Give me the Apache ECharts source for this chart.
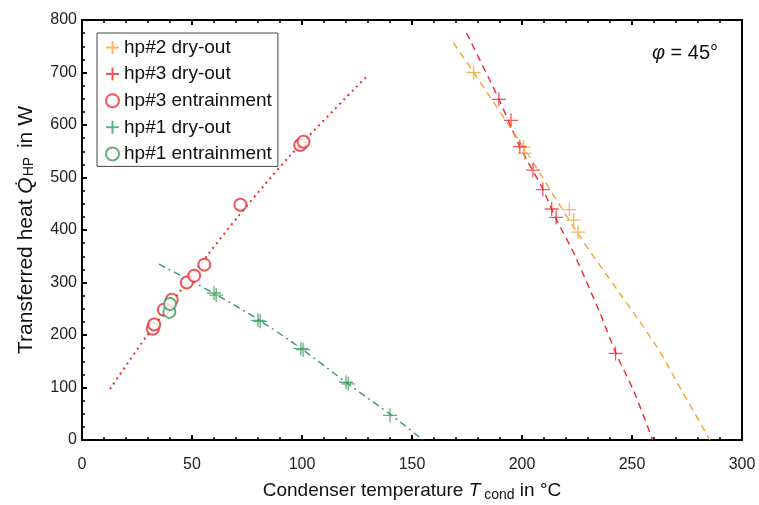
<!DOCTYPE html>
<html><head><meta charset="utf-8">
<script src="https://cdn.jsdelivr.net/npm/echarts@6/dist/echarts.min.js"></script>
<style>html,body{margin:0;padding:0;background:#fff}#c{width:759px;height:505px}</style>
</head><body><div id="c"></div>
<script>
// Measured points
const hp2DryOut = [[178,700],[200.8,558],[201.2,546],[221.5,439],[223.5,419],[225.5,396]];
const hp3DryOut = [[189.5,649],[195,609],[199,559],[205,514],[209.5,477],[213.5,440],[215.5,424],[242.5,165]];
const hp3Entrainment = [[32.2,212],[32.8,220],[37.2,248],[40.8,267],[47.6,300],[51,313],[55.6,334],[72,448],[99.2,562],[100.7,568]];
const hp1DryOut = [[60,280],[61,276],[80,228],[81,226],[99.5,174],[100.5,172],[120,110],[121,107],[140,47]];
const hp1Entrainment = [[39.7,244],[40,259]];
// Fit curves
const fitHp3Entr = [[12.7,97],[29.4,198],[57.4,354],[70.8,425],[82.4,483],[94.2,540],[129,691]];
const fitHp1Dry = [[35,335],[60.5,278],[81,227],[100,173],[120.6,108],[141,46],[155,0]];
const fitHp3Dry = [[174.8,775],[189.5,649],[199,559],[209.7,476],[215,425],[223.3,358],[235.5,241],[242.7,165],[250.6,95],[259.4,0]];
const fitHp2Dry = [[168.8,757],[178,700],[201.5,552],[225.6,392],[244.5,279],[261.2,178],[273.3,89],[285.4,0]];
const xTicks = {min:0,max:300,interval:50};
const yTicks = {min:0,max:800,interval:100};

const ORANGE='#F5A236', RED='#EE2A2E', GREEN='#3A9A5E';
const PLUS='path://M0,5L10,5M5,0L5,10';
const font='Liberation Sans, Arial, sans-serif';

function scat(name,data,color,kind){
  const plus = kind==='plus';
  return {name,type:'scatter',data,z:5,
    symbol: plus?PLUS:'emptyCircle',
    symbolSize: plus?14:12,
    itemStyle: plus?{color:color,borderColor:color,borderWidth:1.3}:{color:color,borderColor:color,borderWidth:1.2},
  };
}
function fit(data,color,type,w){
  return {type:'line',data,smooth:0.3,symbol:'none',silent:true,z:3,
    lineStyle:{color,type,width:w||1.4}};
}
const axisLine={show:true,onZero:false,lineStyle:{color:'#000',width:2}};
const chart = echarts.init(document.getElementById('c'));
chart.setOption({
  backgroundColor:'#fff',
  animation:false,
  textStyle:{fontFamily:font},
  grid:{left:82,right:17,top:20,bottom:65,outerBoundsMode:'none',containLabel:false},
  title:{text:'{i|φ} = 45°',left:647,top:38,textStyle:{fontFamily:font,fontSize:20,fontWeight:'normal',color:'#111',
    rich:{i:{fontStyle:'italic',fontSize:20,fontFamily:font,color:'#111'}}}},
  legend:{orient:'vertical',left:97,top:33,padding:[5,6,3,8],itemGap:7.6,itemWidth:13,itemHeight:14,
    borderColor:'#444',borderWidth:1,backgroundColor:'#fff',
    textStyle:{fontSize:19,color:'#111',fontFamily:font,padding:[0,0,0,0]},
    data:['hp#2 dry-out','hp#3 dry-out','hp#3 entrainment','hp#1 dry-out','hp#1 entrainment']},
  xAxis:[{type:'value',min:xTicks.min,max:xTicks.max,interval:xTicks.interval,
    name:'Condenser temperature {i|T}{sub| cond} in °C',nameLocation:'middle',nameGap:40,
    nameTextStyle:{fontSize:19,color:'#111',fontFamily:font,
      rich:{i:{fontStyle:'italic',fontSize:19,fontFamily:font,color:'#111'},sub:{fontSize:14,fontFamily:font,color:'#111',padding:[8,0,0,0]}}},
    axisLine,
    axisTick:{inside:true,length:5,lineStyle:{color:'#000',width:2}},
    minorTick:{show:true,splitNumber:5,length:3,lineStyle:{color:'#000',width:1.5}},
    axisLabel:{fontSize:16,color:'#222',margin:17,fontFamily:font},
    splitLine:{show:false}},
   {type:'value',position:'top',min:xTicks.min,max:xTicks.max,interval:xTicks.interval,
    axisLine,
    axisTick:{inside:true,length:5,lineStyle:{color:'#000',width:2}},
    minorTick:{show:true,splitNumber:5,length:3,lineStyle:{color:'#000',width:1.5}},
    axisLabel:{show:false},splitLine:{show:false}}],
  yAxis:[{type:'value',min:yTicks.min,max:yTicks.max,interval:yTicks.interval,
    name:'Transferred heat {i|Q̇}{sub|HP} in W',nameLocation:'middle',nameGap:45,
    nameTextStyle:{fontSize:21,color:'#111',fontFamily:font,
      rich:{i:{fontStyle:'italic',fontSize:21,fontFamily:font,color:'#111'},sub:{fontSize:14,fontFamily:font,color:'#111',padding:[6,3,0,1]}}},
    axisLine,
    axisTick:{show:true,inside:true,length:5,lineStyle:{color:'#000',width:2}},
    minorTick:{show:true,splitNumber:4,length:3,lineStyle:{color:'#000',width:1.5}},
    axisLabel:{fontSize:16,color:'#222',margin:5,fontFamily:font},
    splitLine:{show:false}},
   {type:'value',position:'right',min:yTicks.min,max:yTicks.max,interval:yTicks.interval,
    axisLine,
    axisTick:{show:false},axisLabel:{show:false},splitLine:{show:false}}],
  series:[
    fit(fitHp3Entr,RED,[2,4],2),
    fit(fitHp1Dry,GREEN,[7,4,2,4],1.4),
    fit(fitHp3Dry,RED,[7,5],1.4),
    fit(fitHp2Dry,ORANGE,[7,5],1.4),
    scat('hp#2 dry-out',hp2DryOut,ORANGE,'plus'),
    scat('hp#3 dry-out',hp3DryOut,RED,'plus'),
    scat('hp#3 entrainment',hp3Entrainment,RED,'circle'),
    scat('hp#1 dry-out',hp1DryOut,GREEN,'plus'),
    scat('hp#1 entrainment',hp1Entrainment,GREEN,'circle')
  ]
});
</script></body></html>
